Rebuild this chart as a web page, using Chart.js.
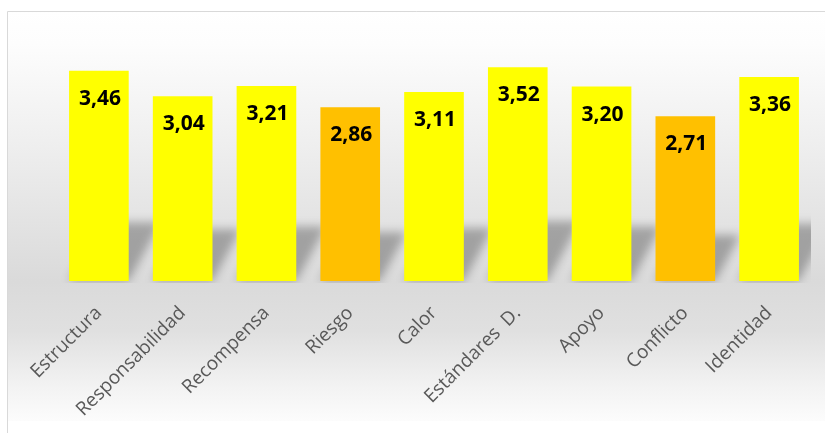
<!DOCTYPE html>
<html>
<head>
<meta charset="utf-8">
<script src="https://cdn.jsdelivr.net/npm/chart.js@4"></script>
<style>
  html, body { margin: 0; padding: 0; background: #fff; }
  #chart { display: block; }
</style>
</head>
<body>
<canvas id="chart" width="825" height="433"></canvas>
<script>
const categories = ["Estructura", "Responsabilidad", "Recompensa", "Riesgo", "Calor", "Estándares  D.", "Apoyo", "Conflicto", "Identidad"];
const scores = [3.46, 3.04, 3.21, 2.86, 3.11, 3.52, 3.20, 2.71, 3.36];
const barColors = ["#FFFF00", "#FFFF00", "#FFFF00", "#FFC000", "#FFFF00", "#FFFF00", "#FFFF00", "#FFC000", "#FFFF00"];

// panel background: soft vertical gray gradient plus thin frame lines
const panelBackground = {
  id: "panelBackground",
  beforeDraw(chart) {
    const ctx = chart.ctx;
    ctx.save();
    const g = ctx.createLinearGradient(0, 11, 0, 421);
    g.addColorStop(0, "#ffffff");
    g.addColorStop(0.08, "#fdfdfd");
    g.addColorStop(0.35, "#ededed");
    g.addColorStop(0.66, "#dadada");
    g.addColorStop(0.78, "#e0e0e0");
    g.addColorStop(0.92, "#f3f3f3");
    g.addColorStop(1, "#fcfcfc");
    ctx.fillStyle = g;
    ctx.fillRect(8, 12, chart.width - 8, 409);
    ctx.strokeStyle = "#d9d9d9";
    ctx.lineWidth = 1;
    ctx.beginPath();
    ctx.moveTo(7.5, chart.height);
    ctx.lineTo(7.5, 11.5);
    ctx.lineTo(chart.width, 11.5);
    ctx.stroke();
    ctx.restore();
  }
};

// blurred perspective shadow cast behind each bar
const barShadows = {
  id: "barShadows",
  beforeDatasetsDraw(chart) {
    const ctx = chart.ctx;
    const area = chart.chartArea;
    const meta = chart.getDatasetMeta(0);
    ctx.save();
    ctx.beginPath();
    ctx.rect(area.left, area.top, area.right - area.left, area.bottom - area.top + 2);
    ctx.clip();
    ctx.filter = "blur(5px)";
    ctx.fillStyle = "rgba(0,0,0,0.28)";
    meta.data.forEach((bar) => {
      const half = bar.width / 2;
      const h = (bar.base - bar.y) * 0.28;
      const sk = h * 0.55;
      ctx.beginPath();
      ctx.moveTo(bar.x - half, bar.base);
      ctx.lineTo(bar.x + half, bar.base);
      ctx.lineTo(bar.x + half + sk, bar.base - h);
      ctx.lineTo(bar.x - half + sk, bar.base - h);
      ctx.closePath();
      ctx.fill();
    });
    ctx.restore();
  }
};

// value written inside the top of each bar, decimal comma
const valueLabels = {
  id: "valueLabels",
  afterDatasetsDraw(chart) {
    const ctx = chart.ctx;
    const meta = chart.getDatasetMeta(0);
    ctx.save();
    ctx.font = "bold 21px 'Open Sans'";
    ctx.fillStyle = "#000000";
    ctx.textAlign = "center";
    ctx.textBaseline = "middle";
    meta.data.forEach((bar, i) => {
      const txt = scores[i].toFixed(2).replace(".", ",");
      ctx.fillText(txt, bar.x + 1, bar.y + 28);
    });
    ctx.restore();
  }
};

const ctx = document.getElementById("chart").getContext("2d");

new Chart(ctx, {
  type: "bar",
  data: {
    labels: categories,
    datasets: [{
      data: scores,
      backgroundColor: barColors,
      borderWidth: 0,
      barPercentage: 0.712,
      categoryPercentage: 1.0
    }]
  },
  options: {
    responsive: false,
    animation: false,
    layout: {
      padding: { left: 57, right: 14, top: 38, bottom: 0 }
    },
    plugins: {
      legend: { display: false },
      tooltip: { enabled: false },
      title: { display: false }
    },
    scales: {
      x: {
        grid: { display: false, drawTicks: false },
        border: { display: false },
        ticks: {
          color: "#595959",
          font: { family: "'Open Sans'", size: 19 },
          minRotation: 45,
          maxRotation: 45,
          padding: 21,
          autoSkip: false
        },
        afterFit(scale) {
          // fixed axis band so the plot floor sits at y = 281
          scale.height = 152;
        }
      },
      y: {
        display: false,
        min: 0,
        max: 4
      }
    }
  },
  plugins: [panelBackground, barShadows, valueLabels]
});
</script>
</body>
</html>
